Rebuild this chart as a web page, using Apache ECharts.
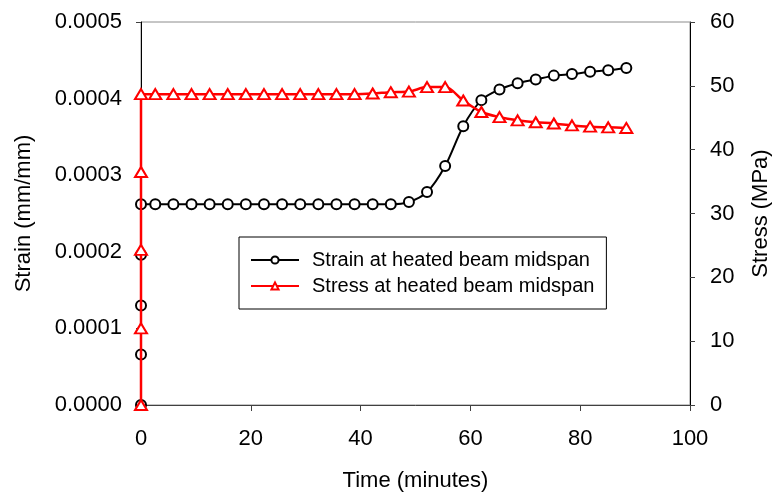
<!DOCTYPE html>
<html>
<head>
<meta charset="utf-8">
<script src="https://cdn.jsdelivr.net/npm/echarts@6/dist/echarts.min.js"></script>
<style>html,body{margin:0;padding:0;background:#fff}#c{width:780px;height:497px}</style>
</head>
<body>
<div id="c"></div>
<script>
var timeMin = [0, 0, 0, 0, 0, 2.6, 5.9, 9.2, 12.5, 15.8, 19.1, 22.4, 25.7, 29.0, 32.3, 35.6, 38.9, 42.2, 45.5, 48.8, 52.1, 55.4, 58.7, 62.0, 65.3, 68.6, 71.9, 75.2, 78.5, 81.8, 85.1, 88.4];
var strain = [0, 0.000066, 0.00013, 0.000196, 0.000262,
  0.000262, 0.000262, 0.000262, 0.000262, 0.000262, 0.000262, 0.000262, 0.000262, 0.000262, 0.000262, 0.000262, 0.000262, 0.000262, 0.000262,
  0.000265, 0.000278, 0.000312, 0.000364, 0.000398, 0.000412, 0.00042, 0.000425, 0.00043, 0.000432, 0.000435, 0.000437, 0.00044];
var stress = [0, 12, 24.3, 36.5, 48.7,
  48.7, 48.7, 48.7, 48.7, 48.7, 48.7, 48.7, 48.7, 48.7, 48.7, 48.7, 48.7, 48.8,
  49.0, 49.1, 49.8, 49.8, 47.7, 45.9, 45.1, 44.6, 44.3, 44.1, 43.8, 43.6, 43.5, 43.4];
var seriesNames = ['Strain at heated beam midspan', 'Stress at heated beam midspan'];
var xTitle = 'Time (minutes)';
var yLeftTitle = 'Strain (mm/mm)';
var yRightTitle = 'Stress (MPa)';

function pairs(xs, ys) { return xs.map(function (x, i) { return [x, ys[i]]; }); }

var font = 'Liberation Sans, Arial, sans-serif';
var chart = echarts.init(document.getElementById('c'), null, { renderer: 'canvas' });
chart.setOption({
  animation: false,
  textStyle: { fontFamily: font },
  grid: { left: 141, right: 88, top: 22, bottom: 91, show: true, borderColor: '#8c8c8c', borderWidth: 1, backgroundColor: 'transparent' },
  legend: {
    orient: 'vertical', left: 239, top: 237,
    padding: [13, 12, 13, 11],
    backgroundColor: '#fff', borderColor: '#000', borderWidth: 1,
    itemWidth: 48, itemHeight: 9, itemGap: 6,
    textStyle: { fontSize: 20, color: '#000', lineHeight: 20, fontFamily: font, padding: [0, 0, 0, 8] },
    data: seriesNames
  },
  xAxis: {
    type: 'value', min: 0, max: 100, interval: 20,
    name: xTitle, nameLocation: 'middle', nameGap: 65,
    nameTextStyle: { fontSize: 22, color: '#000' },
    axisLine: { show: true, onZero: false, lineStyle: { color: '#404040', width: 1 } },
    axisTick: { show: true, inside: false, length: 6, lineStyle: { color: '#404040' } },
    axisLabel: { fontSize: 22, color: '#000', margin: 23 },
    splitLine: { show: false }
  },
  yAxis: [{
    type: 'value', position: 'left', min: 0, max: 0.0005, interval: 0.0001,
    name: yLeftTitle, nameLocation: 'middle', nameGap: 106, nameRotate: 90,
    nameTextStyle: { fontSize: 22, color: '#000' },
    axisLine: { show: true, onZero: false, lineStyle: { color: '#000', width: 1 } },
    axisTick: { show: true, inside: false, length: 5, lineStyle: { color: '#404040' } },
    axisLabel: { fontSize: 22, color: '#000', margin: 19, formatter: function (v) { return v.toFixed(4); } },
    splitLine: { show: false }
  }, {
    type: 'value', position: 'right', min: 0, max: 60, interval: 10,
    name: yRightTitle, nameLocation: 'middle', nameGap: 60, nameRotate: 90,
    nameTextStyle: { fontSize: 22, color: '#000' },
    axisLine: { show: true, onZero: false, lineStyle: { color: '#000', width: 1 } },
    axisTick: { show: true, inside: false, length: 5, lineStyle: { color: '#404040' } },
    axisLabel: { fontSize: 22, color: '#000', margin: 20 },
    splitLine: { show: false }
  }],
  series: [{
    name: seriesNames[0], type: 'line', yAxisIndex: 0,
    data: pairs(timeMin, strain),
    smooth: 0.3,
    symbol: 'emptyCircle', symbolSize: 10,
    lineStyle: { color: '#000', width: 2 },
    itemStyle: { color: '#000', borderColor: '#000', borderWidth: 1 },
    z: 2
  }, {
    name: seriesNames[1], type: 'line', yAxisIndex: 1,
    data: pairs(timeMin, stress),
    smooth: 0.3,
    symbol: 'emptyTriangle', symbolSize: [12, 10],
    lineStyle: { color: '#ff0000', width: 2.5 },
    itemStyle: { color: '#ff0000', borderColor: '#ff0000', borderWidth: 1.2 },
    z: 3
  }]
});
</script>
</body>
</html>
